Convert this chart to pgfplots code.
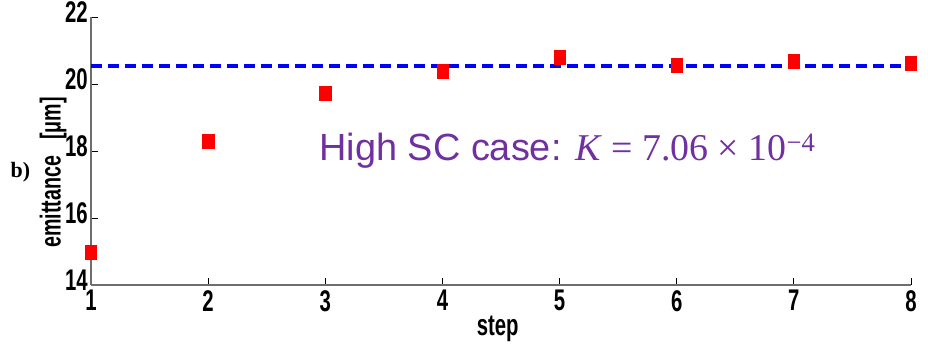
\documentclass[border=0pt]{standalone}
\usepackage{pgfplots}
\pgfplotsset{compat=1.18}
\usepackage{fontspec}
\setmainfont{Liberation Sans}
\newfontfamily\narrowbold[FakeStretch=0.68]{Liberation Sans Bold}
\newfontfamily\serifm{Liberation Serif}
\definecolor{purp}{RGB}{112,48,160}
\definecolor{axgray}{RGB}{110,110,110}
\begin{document}
\begin{tikzpicture}[x=1bp,y=1bp]
\begin{axis}[
  scale only axis, width=820bp, height=268bp,
  xmin=1, xmax=8, ymin=14, ymax=22,
  axis x line*=bottom, axis y line*=left,
  axis line style={axgray, line width=1.3bp, -},
  xtick={1,...,8}, ytick={14,16,...,22},
  tick align=inside, major tick length=7bp,
  tick style={black, line width=0.8bp},
  /pgf/number format/assume math mode=true,
  ticklabel style={font=\narrowbold\fontsize{30}{30}\selectfont, inner sep=1bp},
  xticklabel style={yshift=-4bp},
  yticklabel style={xshift=-2bp, yshift=5bp},
  clip=false,
]
\addplot[blue, line width=3.6bp, dash pattern=on 11bp off 6bp] coordinates {(1,20.54) (8,20.54)};
\addplot[only marks, mark=square*, mark size=7bp, mark options={xscale=0.8, fill=red, draw=red}, red] coordinates {
(1,14.98) (2,18.3) (3,19.73) (4,20.39) (5,20.8) (6,20.57) (7,20.69) (8,20.63)};
\node[purp, font=\fontsize{38}{38}\selectfont, anchor=west, inner sep=0pt] at (axis cs:2.95,18.0) {High SC case: {\serifm\itshape K} {\serifm= 7.06 × 10\textsuperscript{−4}}};
\node[font=\narrowbold\fontsize{30}{30}\selectfont] at (rel axis cs:0.496,-0.165) {step};
\node[font=\narrowbold\fontsize{29}{29}\selectfont, rotate=90] at (rel axis cs:-0.046,0.42) {emittance\ \ \ [μm]};
\node[font=\serifm\bfseries\fontsize{22}{22}\selectfont] at (rel axis cs:-0.086,0.42) {b)};
\path (rel axis cs:{-91/820},{-62/268}) rectangle (rel axis cs:{837/820},{1+17/268});
\end{axis}
\end{tikzpicture}
\end{document}
